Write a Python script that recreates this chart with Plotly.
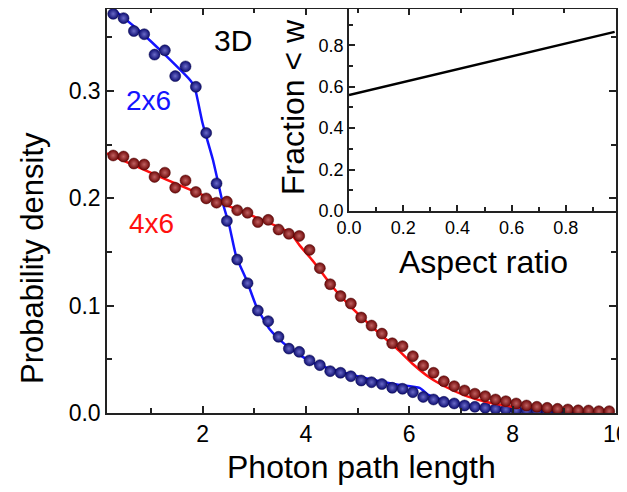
import plotly.graph_objects as go

# ---------------- data ----------------
blue_x = [0.27, 0.47, 0.67, 0.87, 1.07, 1.27, 1.47, 1.67, 1.87, 2.07, 2.27, 2.47, 2.67, 2.87,
          3.07, 3.27, 3.47, 3.67, 3.87, 4.07, 4.27, 4.47, 4.67, 4.87, 5.07, 5.27, 5.47, 5.67,
          5.87, 6.07, 6.27, 6.47, 6.67, 6.87, 7.07, 7.27, 7.47, 7.67, 7.87, 8.07, 8.27, 8.47,
          8.67, 8.87, 9.07, 9.27]
blue_y = [0.372, 0.368, 0.356, 0.353, 0.334, 0.338, 0.314, 0.323, 0.304, 0.261, 0.214, 0.179,
          0.143, 0.121, 0.0955, 0.0856, 0.071, 0.060, 0.057, 0.049, 0.0446, 0.039, 0.0375,
          0.0343, 0.0303, 0.0287, 0.027, 0.0235, 0.0226, 0.0194, 0.015, 0.0126, 0.0104, 0.0089,
          0.007, 0.0058, 0.0048, 0.0039, 0.0033, 0.0026, 0.0023, 0.002, 0.0017, 0.0015, 0.0013,
          0.0012]

red_x = [0.27, 0.47, 0.67, 0.87, 1.07, 1.27, 1.47, 1.67, 1.87, 2.07, 2.27, 2.47, 2.67, 2.87,
         3.07, 3.27, 3.47, 3.67, 3.87, 4.07, 4.27, 4.47, 4.67, 4.87, 5.07, 5.27, 5.47, 5.67,
         5.87, 6.07, 6.27, 6.47, 6.67, 6.87, 7.07, 7.27, 7.47, 7.67, 7.87, 8.07, 8.27, 8.47,
         8.67, 8.87, 9.07, 9.27, 9.47, 9.67, 9.87]
red_y = [0.240, 0.239, 0.2325, 0.2316, 0.220, 0.224, 0.210, 0.2167, 0.206, 0.200, 0.196, 0.197,
         0.189, 0.1866, 0.178, 0.180, 0.171, 0.167, 0.165, 0.152, 0.135, 0.120, 0.109, 0.102,
         0.089, 0.0815, 0.074, 0.065, 0.0623, 0.053, 0.0443, 0.0375, 0.0296, 0.025, 0.021,
         0.018, 0.0157, 0.0126, 0.011, 0.0089, 0.007, 0.0058, 0.0048, 0.0039, 0.0033, 0.0025,
         0.0023, 0.0017, 0.0017]

blue_line_x = [0.15, 0.78, 1.30, 1.78, 1.85, 2.0, 2.2, 2.39, 2.52, 2.65, 2.85, 3.04, 3.30, 3.56,
               3.82, 4.14, 4.52, 5.11, 5.76, 6.2, 6.36, 6.72, 7.37, 8.0]
blue_line_y = [0.381, 0.356, 0.3325, 0.309, 0.303, 0.270, 0.236, 0.196, 0.174, 0.146, 0.124,
               0.0995, 0.078, 0.0654, 0.056, 0.0468, 0.0405, 0.0328, 0.0266, 0.0234, 0.0172,
               0.011, 0.0048, 0.0023]

red_line_x = [0.15, 1.30, 2.6, 3.69, 3.89, 4.14, 4.53, 4.92, 5.3, 5.76, 6.08, 6.40, 6.72, 7.11,
              7.56, 8.14]
red_line_y = [0.242, 0.2176, 0.191, 0.168, 0.1555, 0.1415, 0.1167, 0.0965, 0.0794, 0.060,
              0.0452, 0.0328, 0.024, 0.0157, 0.0095, 0.0048]

inset_x = [0.0, 0.4, 0.98]
inset_y = [0.56, 0.684, 0.865]

main_xticks = [2, 4, 6, 8, 10]
main_yticks = [0.0, 0.1, 0.2, 0.3]
inset_ticks = [0.0, 0.2, 0.4, 0.6, 0.8]

FONT = "Arial, Liberation Sans, sans-serif"
OFF = 8  # page body margin offset
W, H = 627 - OFF, 492 - OFF

def px(x):
    return (x - OFF) / W

def py(y):
    return 1 - (y - OFF) / H

fig = go.Figure()

fig.add_trace(go.Scatter(x=blue_line_x, y=blue_line_y, mode="lines",
                         line=dict(color="#1414ff", width=2.5, shape="spline", smoothing=0.5),
                         showlegend=False))
fig.add_trace(go.Scatter(x=blue_x, y=blue_y, mode="markers",
                         marker=dict(size=11, color="#0c0c70",
                                     gradient=dict(type="radial", color="#6a6ac8"),
                                     line=dict(width=0.5, color="#08084a")),
                         showlegend=False))
fig.add_trace(go.Scatter(x=red_line_x, y=red_line_y, mode="lines",
                         line=dict(color="#ff1010", width=2.5, shape="spline", smoothing=0.5),
                         showlegend=False))
fig.add_trace(go.Scatter(x=red_x, y=red_y, mode="markers",
                         marker=dict(size=11, color="#6e0808",
                                     gradient=dict(type="radial", color="#c06060"),
                                     line=dict(width=0.5, color="#4a0505")),
                         showlegend=False))
fig.add_trace(go.Scatter(x=inset_x, y=inset_y, mode="lines", xaxis="x2", yaxis="y2",
                         line=dict(color="black", width=2.5), showlegend=False))

axcol = "#222222"
TOP = 8.5
main_dom_x = [px(107), px(616)]
main_dom_y = [py(413), py(TOP)]
ins_dom_x = [px(349), px(616)]
ins_dom_y = [py(211), py(TOP)]
main_ytop = (413 - TOP) / 1073.0
ins_ytop = (211 - TOP) / 207.1

common = dict(ticks="inside", tickwidth=1.5, tickcolor=axcol, showline=True, linecolor=axcol,
              linewidth=1.5, showgrid=False, zeroline=False, automargin=False,
              ticklabeloverflow="allow")

fig.update_layout(
    width=W, height=H,
    margin=dict(l=0, r=0, t=0, b=0, pad=0, autoexpand=False),
    paper_bgcolor="white",
    plot_bgcolor="rgba(0,0,0,0)",
    font=dict(family=FONT, color="black"),
    xaxis=dict(domain=main_dom_x, range=[0.15, 10.002], anchor="y",
               tickvals=main_xticks, ticktext=[str(v) for v in main_xticks], ticklen=7,
               minor=dict(dtick=1, tick0=0, ticks="inside", ticklen=5, tickwidth=1.5, tickcolor=axcol),
               mirror="ticks", tickfont=dict(size=23), **common),
    yaxis=dict(domain=main_dom_y, range=[0, main_ytop], anchor="x",
               tickvals=main_yticks, ticktext=["%.1f" % v for v in main_yticks], ticklen=7,
               minor=dict(dtick=0.05, tick0=0, ticks="inside", ticklen=5, tickwidth=1.5, tickcolor=axcol),
               mirror="ticks", tickfont=dict(size=23), **common),
    xaxis2=dict(domain=ins_dom_x, range=[0, 0.985], anchor="y2",
                tickvals=inset_ticks, ticktext=["%.1f" % v for v in inset_ticks], ticklen=6,
                minor=dict(dtick=0.1, tick0=0, ticks="inside", ticklen=4, tickwidth=1.5, tickcolor=axcol),
                mirror=False, tickfont=dict(size=18), **common),
    yaxis2=dict(domain=ins_dom_y, range=[0, ins_ytop], anchor="x2",
                tickvals=inset_ticks, ticktext=["%.1f" % v for v in inset_ticks], ticklen=6,
                minor=dict(dtick=0.1, tick0=0, ticks="inside", ticklen=4, tickwidth=1.5, tickcolor=axcol),
                mirror=False, tickfont=dict(size=18), **common),
)

annos = [
    dict(text="Photon path length", x=px(361), y=py(467), size=32, angle=0, color="black"),
    dict(text="Probability density", x=px(33), y=py(258), size=31, angle=-90, color="black"),
    dict(text="Aspect ratio", x=px(483), y=py(262), size=32, angle=0, color="black"),
    dict(text="Fraction &lt; w", x=px(293), y=py(107), size=32, angle=-90, color="black"),
    dict(text="3D", x=px(233), y=py(40), size=30, angle=0, color="black"),
    dict(text="2x6", x=px(148), y=py(100), size=28, angle=0, color="#1414ff"),
    dict(text="4x6", x=px(151), y=py(223), size=28, angle=0, color="#ff1010"),
]
for a in annos:
    fig.add_annotation(text=a["text"], x=a["x"], y=a["y"], xref="paper", yref="paper",
                       xanchor="center", yanchor="middle", showarrow=False, textangle=a["angle"],
                       font=dict(size=a["size"], color=a["color"], family=FONT))

fig.write_html("out.html")
